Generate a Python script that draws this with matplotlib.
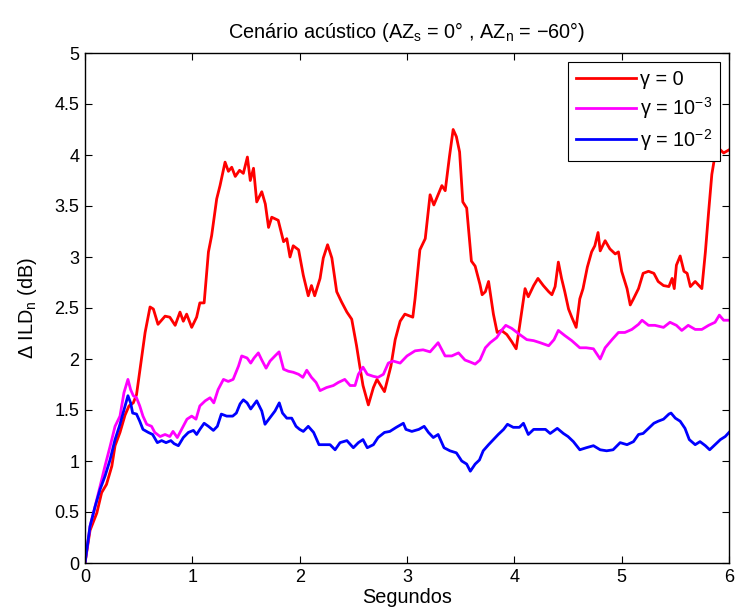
import numpy as np
import matplotlib
matplotlib.use('Agg')
import matplotlib.pyplot as plt

plt.rcParams['font.family'] = ['Liberation Sans', 'DejaVu Sans']
plt.rcParams['mathtext.fontset'] = 'custom'
plt.rcParams['mathtext.rm'] = 'Liberation Sans'
plt.rcParams['mathtext.it'] = 'Liberation Sans:italic'
plt.rcParams['mathtext.bf'] = 'Liberation Sans:bold'

# (tempo em s, delta ILD em dB) para cada valor de gamma
ild_g0 = np.array([
    [0, 0], [0.047, 0.32], [0.11, 0.49], [0.155, 0.69], [0.20, 0.77], [0.25, 0.95],
    [0.28, 1.15], [0.326, 1.28], [0.373, 1.45], [0.41, 1.54], [0.45, 1.57], [0.48, 1.65],
    [0.53, 2.03], [0.56, 2.26], [0.606, 2.51], [0.637, 2.49], [0.68, 2.34], [0.746, 2.42],
    [0.79, 2.41], [0.84, 2.33], [0.885, 2.46], [0.916, 2.37], [0.947, 2.44], [0.994, 2.31],
    [1.04, 2.41], [1.07, 2.55], [1.11, 2.55], [1.15, 3.05], [1.18, 3.21], [1.227, 3.57],
    [1.258, 3.70], [1.305, 3.93], [1.336, 3.84], [1.367, 3.88], [1.40, 3.79], [1.44, 3.85],
    [1.475, 3.82], [1.513, 3.98], [1.54, 3.75], [1.57, 3.87], [1.60, 3.54], [1.647, 3.64],
    [1.68, 3.52], [1.71, 3.29], [1.74, 3.39], [1.80, 3.36], [1.85, 3.15], [1.88, 3.18],
    [1.91, 3.0], [1.94, 3.11], [1.99, 3.07], [2.034, 2.82], [2.08, 2.62], [2.11, 2.72],
    [2.14, 2.62], [2.19, 2.79], [2.22, 2.99], [2.26, 3.12], [2.30, 2.99], [2.345, 2.66],
    [2.39, 2.56], [2.44, 2.46], [2.485, 2.39], [2.53, 2.13], [2.56, 1.93], [2.59, 1.74],
    [2.64, 1.55], [2.687, 1.72], [2.72, 1.80], [2.79, 1.68], [2.85, 1.93], [2.89, 2.19],
    [2.936, 2.37], [2.98, 2.44], [3.054, 2.41], [3.075, 2.59], [3.12, 3.07], [3.17, 3.18],
    [3.215, 3.61], [3.25, 3.51], [3.29, 3.61], [3.325, 3.70], [3.356, 3.65], [3.395, 3.98],
    [3.43, 4.25], [3.46, 4.18], [3.49, 4.03], [3.52, 3.54], [3.556, 3.48], [3.60, 2.96],
    [3.635, 2.91], [3.68, 2.73], [3.70, 2.63], [3.73, 2.66], [3.76, 2.76], [3.805, 2.44],
    [3.84, 2.26], [3.88, 2.28], [3.93, 2.24], [3.976, 2.17], [4.017, 2.1], [4.05, 2.33],
    [4.10, 2.69], [4.13, 2.61], [4.18, 2.72], [4.22, 2.79], [4.27, 2.72], [4.32, 2.66],
    [4.35, 2.63], [4.38, 2.71], [4.41, 2.95], [4.44, 2.79], [4.47, 2.66], [4.505, 2.49],
    [4.535, 2.41], [4.576, 2.31], [4.61, 2.59], [4.64, 2.69], [4.68, 2.9], [4.72, 3.05],
    [4.75, 3.11], [4.78, 3.24], [4.80, 3.06], [4.846, 3.16], [4.89, 3.08], [4.94, 3.03],
    [4.97, 3.05], [5.0, 2.86], [5.05, 2.69], [5.08, 2.53], [5.11, 2.59], [5.157, 2.69],
    [5.20, 2.84], [5.25, 2.86], [5.30, 2.84], [5.34, 2.76], [5.39, 2.72], [5.44, 2.71],
    [5.47, 2.79], [5.49, 2.69], [5.51, 2.92], [5.545, 3.01], [5.58, 2.86], [5.61, 2.84],
    [5.64, 2.71], [5.685, 2.76], [5.73, 2.71], [5.747, 2.69], [5.78, 3.05], [5.81, 3.44],
    [5.84, 3.81], [5.87, 4.0], [5.90, 4.07], [5.95, 4.02], [6.0, 4.05],
])

ild_g3 = np.array([
    [0, 0], [0.047, 0.36], [0.093, 0.55], [0.14, 0.75], [0.186, 0.95], [0.233, 1.14],
    [0.28, 1.34], [0.326, 1.44], [0.363, 1.67], [0.40, 1.80], [0.425, 1.70], [0.45, 1.64],
    [0.48, 1.62], [0.51, 1.54], [0.54, 1.44], [0.575, 1.36], [0.62, 1.34], [0.65, 1.28],
    [0.70, 1.24], [0.746, 1.26], [0.79, 1.24], [0.82, 1.29], [0.86, 1.23], [0.90, 1.31],
    [0.95, 1.41], [0.994, 1.44], [1.034, 1.41], [1.07, 1.54], [1.12, 1.59], [1.165, 1.62],
    [1.20, 1.57], [1.24, 1.70], [1.29, 1.80], [1.335, 1.78], [1.38, 1.80], [1.43, 1.93],
    [1.46, 2.03], [1.51, 2.01], [1.544, 1.96], [1.575, 2.01], [1.615, 2.06], [1.647, 1.99],
    [1.687, 1.91], [1.724, 1.98], [1.77, 2.03], [1.808, 2.07], [1.85, 1.90], [1.895, 1.88],
    [1.94, 1.87], [1.99, 1.85], [2.03, 1.82], [2.066, 1.89], [2.11, 1.82], [2.153, 1.77],
    [2.19, 1.69], [2.25, 1.72], [2.314, 1.74], [2.36, 1.77], [2.42, 1.80], [2.47, 1.74],
    [2.516, 1.74], [2.547, 1.85], [2.59, 1.92], [2.63, 1.85], [2.687, 1.83], [2.73, 1.82],
    [2.78, 1.85], [2.826, 1.96], [2.87, 1.98], [2.936, 1.96], [3.0, 2.03], [3.075, 2.08],
    [3.15, 2.09], [3.215, 2.07], [3.29, 2.16], [3.355, 2.03], [3.417, 2.03], [3.48, 2.06],
    [3.54, 1.99], [3.59, 1.97], [3.635, 1.95], [3.68, 1.99], [3.73, 2.11], [3.775, 2.16],
    [3.836, 2.21], [3.88, 2.28], [3.92, 2.33], [3.976, 2.30], [4.05, 2.24], [4.116, 2.19],
    [4.18, 2.18], [4.24, 2.16], [4.32, 2.13], [4.37, 2.19], [4.41, 2.28], [4.47, 2.23],
    [4.535, 2.18], [4.61, 2.11], [4.67, 2.11], [4.737, 2.1], [4.80, 2.0], [4.846, 2.11],
    [4.91, 2.19], [4.97, 2.26], [5.03, 2.26], [5.095, 2.29], [5.157, 2.34], [5.19, 2.38],
    [5.25, 2.33], [5.31, 2.33], [5.39, 2.31], [5.45, 2.36], [5.51, 2.33], [5.56, 2.28],
    [5.62, 2.33], [5.685, 2.29], [5.747, 2.29], [5.81, 2.33], [5.87, 2.36], [5.91, 2.43],
    [5.95, 2.38], [6.0, 2.38],
])

ild_g2 = np.array([
    [0, 0], [0.047, 0.36], [0.093, 0.55], [0.14, 0.72], [0.186, 0.85], [0.233, 1.01],
    [0.28, 1.21], [0.326, 1.36], [0.373, 1.54], [0.40, 1.64], [0.425, 1.57], [0.444, 1.47],
    [0.48, 1.46], [0.51, 1.39], [0.54, 1.31], [0.59, 1.28], [0.63, 1.26], [0.674, 1.18],
    [0.714, 1.20], [0.755, 1.18], [0.80, 1.20], [0.83, 1.17], [0.87, 1.15], [0.916, 1.23],
    [0.963, 1.28], [1.01, 1.30], [1.04, 1.26], [1.07, 1.31], [1.11, 1.37], [1.15, 1.34],
    [1.196, 1.30], [1.233, 1.34], [1.27, 1.46], [1.32, 1.44], [1.376, 1.44], [1.41, 1.47],
    [1.445, 1.56], [1.475, 1.60], [1.51, 1.57], [1.544, 1.51], [1.60, 1.59], [1.647, 1.49],
    [1.677, 1.36], [1.72, 1.42], [1.77, 1.49], [1.81, 1.57], [1.84, 1.47], [1.88, 1.42],
    [1.926, 1.42], [1.966, 1.34], [2.0, 1.31], [2.034, 1.29], [2.08, 1.34], [2.13, 1.28],
    [2.18, 1.16], [2.24, 1.16], [2.283, 1.16], [2.33, 1.11], [2.376, 1.18], [2.44, 1.20],
    [2.5, 1.13], [2.547, 1.18], [2.59, 1.21], [2.63, 1.13], [2.687, 1.16], [2.73, 1.23],
    [2.79, 1.28], [2.84, 1.29], [2.90, 1.33], [2.966, 1.37], [2.99, 1.31], [3.045, 1.29],
    [3.11, 1.31], [3.16, 1.34], [3.20, 1.28], [3.245, 1.23], [3.29, 1.26], [3.345, 1.13],
    [3.40, 1.10], [3.46, 1.08], [3.51, 1.0], [3.556, 0.97], [3.59, 0.90], [3.635, 0.97],
    [3.675, 1.01], [3.71, 1.10], [3.76, 1.16], [3.805, 1.21], [3.85, 1.26], [3.9, 1.31],
    [3.936, 1.36], [3.99, 1.33], [4.047, 1.33], [4.085, 1.37], [4.13, 1.26], [4.18, 1.31],
    [4.24, 1.31], [4.29, 1.31], [4.334, 1.27], [4.40, 1.32], [4.457, 1.27], [4.50, 1.24],
    [4.55, 1.19], [4.61, 1.11], [4.67, 1.13], [4.737, 1.15], [4.80, 1.11], [4.86, 1.10],
    [4.92, 1.11], [4.986, 1.18], [5.05, 1.16], [5.11, 1.19], [5.157, 1.26], [5.20, 1.27],
    [5.25, 1.32], [5.30, 1.37], [5.34, 1.39], [5.39, 1.41], [5.44, 1.46], [5.46, 1.47],
    [5.50, 1.42], [5.545, 1.39], [5.59, 1.32], [5.63, 1.21], [5.685, 1.16], [5.73, 1.19],
    [5.78, 1.15], [5.82, 1.11], [5.87, 1.16], [5.92, 1.21], [5.965, 1.24], [6.0, 1.28],
])

labels = ['γ = 0', 'γ = 10$^{-3}$', 'γ = 10$^{-2}$']
colors = ['#ff0000', '#ff00ff', '#0000ff']
x_ticks = [0, 1, 2, 3, 4, 5, 6]
y_ticks = [0, 0.5, 1, 1.5, 2, 2.5, 3, 3.5, 4, 4.5, 5]

fig = plt.figure(figsize=(7.35, 6.16), dpi=100)
ax = fig.add_axes([85/735, 1-563/616, 644/735, 510/616])

for d, lab, c in zip([ild_g0, ild_g3, ild_g2], labels, colors):
    ax.plot(d[:, 0], d[:, 1], color=c, lw=2.0, label=lab)

ax.set_xlim(0, 6)
ax.set_ylim(0, 5)
ax.set_xticks(x_ticks)
ax.set_xticklabels(['%g' % v for v in x_ticks])
ax.set_yticks(y_ticks)
ax.set_yticklabels(['%g' % v for v in y_ticks])
ax.tick_params(direction='in', top=True, right=True, length=5, width=0.8,
               labelsize=13, pad=4)
for s in ax.spines.values():
    s.set_linewidth(1.0)

ax.set_xlabel('Segundos', fontsize=14.3, labelpad=2)
ax.set_ylabel(r'Δ ILD$_\mathrm{n}$ (dB)', fontsize=14.3, labelpad=11)
ax.set_title(r'Cenário acústico (AZ$_\mathrm{s}$ = 0° , AZ$_\mathrm{n}$ = −60°)',
             fontsize=14.3, pad=11)

leg = ax.legend(loc='upper right', fontsize=14.3, handlelength=3.0,
                fancybox=False, framealpha=1, edgecolor='black',
                borderaxespad=0.45, borderpad=0.4, labelspacing=0.3,
                handletextpad=0.2)
leg.get_frame().set_linewidth(0.8)

fig.savefig('out.png', dpi=100)
